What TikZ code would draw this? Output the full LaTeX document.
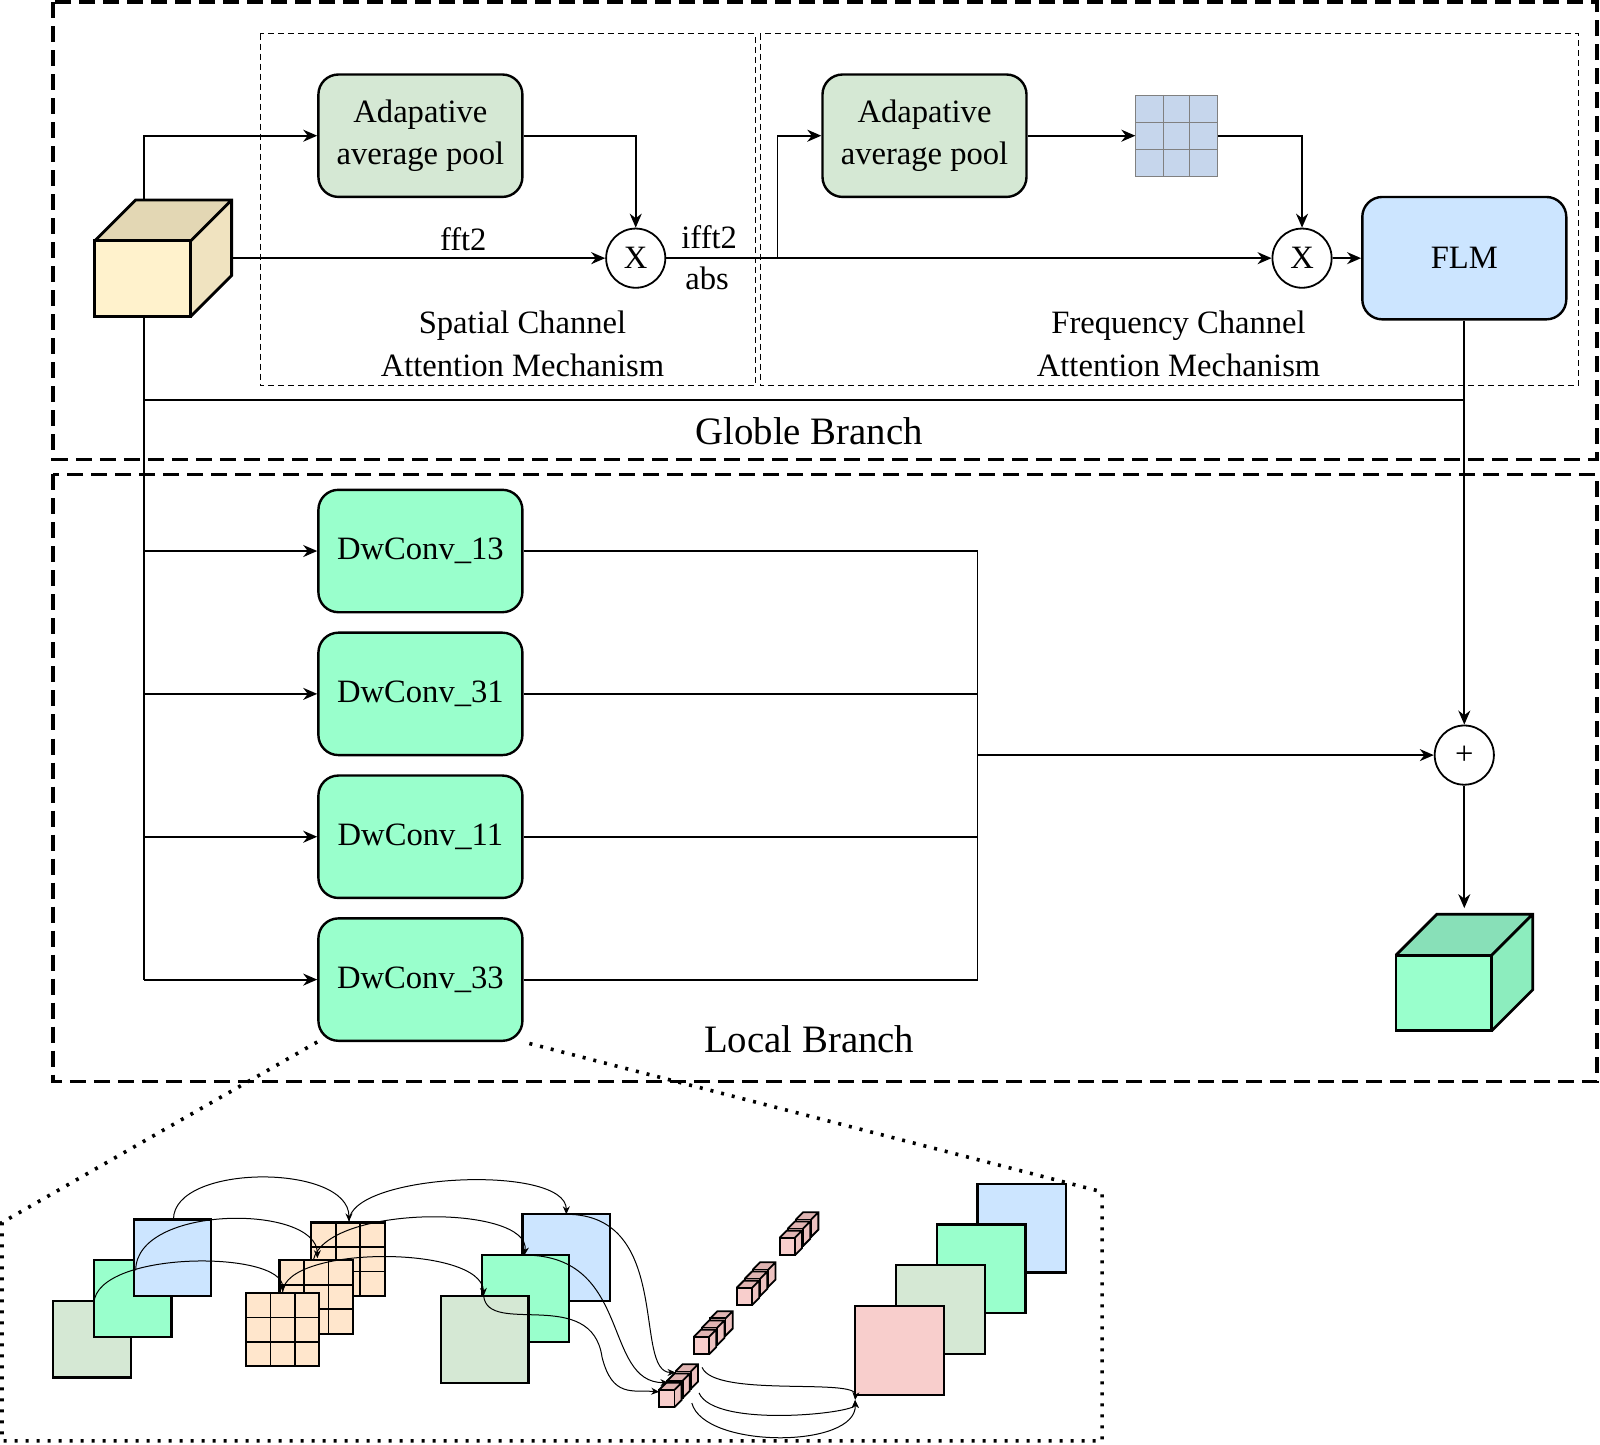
\documentclass[tikz,border=0pt]{standalone}
\usepackage{fontspec}
\setmainfont{Liberation Serif}
\usetikzlibrary{arrows.meta}
\definecolor{pool}{HTML}{D5E8D4}
\definecolor{dw}{HTML}{99FFCC}
\definecolor{flm}{HTML}{CCE5FF}
\definecolor{grid}{HTML}{C6D6EC}
\definecolor{org}{HTML}{FFE6CC}
\definecolor{pink}{HTML}{F8CECC}
\definecolor{pinktop}{HTML}{E0B4B2}
\definecolor{pinkside}{HTML}{EDC2C0}
\definecolor{cin}{HTML}{FFF2CC}
\definecolor{cintop}{HTML}{E3D7B4}
\definecolor{cinside}{HTML}{F0E3C0}
\definecolor{dwtop}{HTML}{88E0B8}
\definecolor{dwside}{HTML}{8CEDBE}
\newcommand\mycube[7]{% x y w h front top side
  \fill[#6] (#1,#2) -- ++(40,-40) -- ++(#3,0) -- ++(-40,40) -- cycle;
  \fill[#7] (#1+#3,#2) -- ++(40,-40) -- ++(0,#4) -- ++(-40,40) -- cycle;
  \draw[line width=1.4pt,fill=#5] (#1,#2) rectangle ++(#3,#4);
  \draw[line width=1.4pt] (#1,#2) -- ++(40,-40) -- ++(#3,0) -- ++(0,#4) -- ++(-40,40) (#1+#3,#2) -- ++(40,-40);}
\newcommand\scube[2]{%
  \fill[pinktop] (#1,#2) -- ++(7,-7) -- ++(15,0) -- ++(-7,7) -- cycle;
  \fill[pinkside] (#1+15,#2) -- ++(7,-7) -- ++(0,17) -- ++(-7,7) -- cycle;
  \draw[line width=0.9pt,fill=pink] (#1,#2) rectangle ++(15,17);
  \draw[line width=0.9pt] (#1,#2) -- ++(7,-7) -- ++(15,0) -- ++(0,17) -- ++(-7,7) (#1+15,#2) -- ++(7,-7);}
\begin{document}%
\begin{tikzpicture}[x=0.5102pt,y=-0.5102pt,
  box/.style={draw,line width=1.2pt,rounded corners=10pt,minimum width=102pt,minimum height=61.2pt,align=center,font=\fontsize{16.3}{21.4}\selectfont},
  op/.style={draw,circle,line width=0.9pt,minimum size=29.6pt,inner sep=0pt,font=\fontsize{16.3}{18}\selectfont},
  ar/.style={-{Stealth[length=7pt,width=6pt]},line width=0.9pt},
  ln/.style={line width=0.9pt},
  lbl/.style={font=\fontsize{16.3}{21.4}\selectfont,align=center},
  sq/.style={draw,line width=1.1pt},
  thin/.style={-{Stealth[length=4pt,width=3.5pt]},line width=0.5pt}]
\useasboundingbox (0,0) rectangle (1568,1416);
% frames
\draw[line width=1.6pt,dash pattern=on 8pt off 4pt] (52,2) rectangle (1565,450);
\draw[line width=1.6pt,dash pattern=on 8pt off 4pt] (52,465) rectangle (1565,1060);
\draw[line width=0.6pt,dash pattern=on 3pt off 2pt] (255,33) rectangle (740,378);
\draw[line width=0.6pt,dash pattern=on 3pt off 2pt] (745,33) rectangle (1547,378);
% cubes
\mycube{93}{236}{94}{74}{cin}{cintop}{cinside}
\mycube{1368}{936}{94}{74}{dw}{dwtop}{dwside}
% nodes
\node[box,fill=pool] (p1) at (412,133) {Adapative\\average pool};
\node[box,fill=pool] (p2) at (906,133) {Adapative\\average pool};
\node[op] (x1) at (623,253) {X};
\node[op] (x2) at (1276,253) {X};
\node[box,fill=flm] (flm) at (1435,253) {FLM};
\node[op] (plus) at (1435,740) {+};
\node[draw=gray,fill=grid,minimum size=40.8pt,inner sep=0pt] (g) at (1153,133) {};
\draw[gray] (1140,93)--(1140,173) (1166,93)--(1166,173) (1113,120)--(1193,120) (1113,146)--(1193,146);
\foreach \n/\y/\t in {d1/540/13,d2/680/31,d3/820/11,d4/960/33}
  \node[box,fill=dw] (\n) at (412,\y) {DwConv\_\t};
% connectors
\draw[ar] (141,196) |- (p1.west);
\draw[ar] (227,253) -- node[lbl,above,pos=0.62]{fft2} (x1.west);
\draw[ar] (p1.east) -| (x1.north);
\draw[ar] (x1.east) -- (x2.west);
\node[lbl] at (695,232) {ifft2};
\node[lbl] at (693,273) {abs};
\draw[ar] (762,253) |- (p2.west);
\draw[ar] (p2.east) -- (g.west);
\draw[ar] (g.east) -| (x2.north);
\draw[ar] (x2.east) -- (flm.west);
\draw[ar] (flm.south) -- (plus.north);
\draw[ln] (141,310) -- (141,960);
\draw[ln] (141,392) -- (1435,392);
\foreach \n in {d1,d2,d3,d4} {\draw[ar] (141,0 |- \n.west) -- (\n.west); \draw[ln] (\n.east) -- (958,0 |- \n.east);}
\draw[ln] (958,540) -- (958,960);
\draw[ar] (958,740) -- (plus.west);
\draw[ar] (plus.south) -- (1435,890);
\node[lbl] at (512,337) {Spatial Channel\\Attention Mechanism};
\node[lbl] at (1155,337) {Frequency Channel\\Attention Mechanism};
\node[lbl,font=\fontsize{19.4}{22}\selectfont] at (793,423) {Globle Branch};
\node[lbl,font=\fontsize{19.4}{22}\selectfont] at (793,1018) {Local Branch};
% zoom frame
\draw[line width=1.8pt,dash pattern=on 1.5pt off 4pt] (d4.south west) -- (2,1198) -- (2,1412) -- (1080,1412) -- (1080,1168) -- (d4.south east);
% detail
\draw[sq,fill=pool] (52,1275) rectangle (128,1350);
\draw[sq,fill=dw] (92,1235) rectangle (168,1310);
\draw[sq,fill=flm] (131,1195) rectangle (207,1270);
\foreach \x/\y in {305/1198,274/1235,241/1267}{
  \draw[sq,fill=org] (\x,\y) rectangle ++(72,72);
  \draw[line width=0.8pt] (\x+24,\y) -- ++(0,72) (\x+48,\y) -- ++(0,72) (\x,\y+24) -- ++(72,0) (\x,\y+48) -- ++(72,0);}
\draw[sq,fill=flm] (512,1190) rectangle (598,1275);
\draw[sq,fill=dw] (472,1230) rectangle (558,1315);
\draw[sq,fill=pool] (432,1270) rectangle (518,1355);
\draw[sq,fill=flm] (958,1160) rectangle (1045,1247);
\draw[sq,fill=dw] (918,1200) rectangle (1005,1287);
\draw[sq,fill=pool] (878,1240) rectangle (965,1327);
\draw[sq,fill=pink] (838,1280) rectangle (925,1367);
% small cube columns
\foreach \x/\y in {646/1362,680/1310,722/1262,764/1213}{
  \scube{\x+16}{\y-18}\scube{\x+8}{\y-9}\scube{\x}{\y}}
\draw[thin] (170,1195) .. controls (170,1140) and (342,1140) .. (342,1197);
\draw[thin] (342,1197) .. controls (342,1150) and (555,1140) .. (555,1190);
\draw[thin] (133,1245) .. controls (133,1180) and (311,1180) .. (311,1233);
\draw[thin] (307,1235) .. controls (320,1180) and (520,1180) .. (514,1230);
\draw[thin] (92,1277) .. controls (95,1225) and (277,1225) .. (277,1266);
\draw[thin] (277,1266) .. controls (280,1220) and (472,1220) .. (474,1270);
\draw[thin] (555,1190) .. controls (660,1190) and (620,1345) .. (662,1345);
\draw[thin] (514,1230) .. controls (620,1230) and (590,1355) .. (655,1355);
\draw[thin] (474,1270) .. controls (478,1310) and (580,1260) .. (590,1330) .. controls (600,1370) and (620,1362) .. (646,1364);
\draw[thin] (688,1340) .. controls (700,1370) and (840,1350) .. (838,1372);
\draw[thin] (685,1365) .. controls (700,1400) and (838,1385) .. (838,1372);
\draw[thin] (678,1375) .. controls (690,1420) and (840,1420) .. (838,1372);
\end{tikzpicture}%
\end{document}
